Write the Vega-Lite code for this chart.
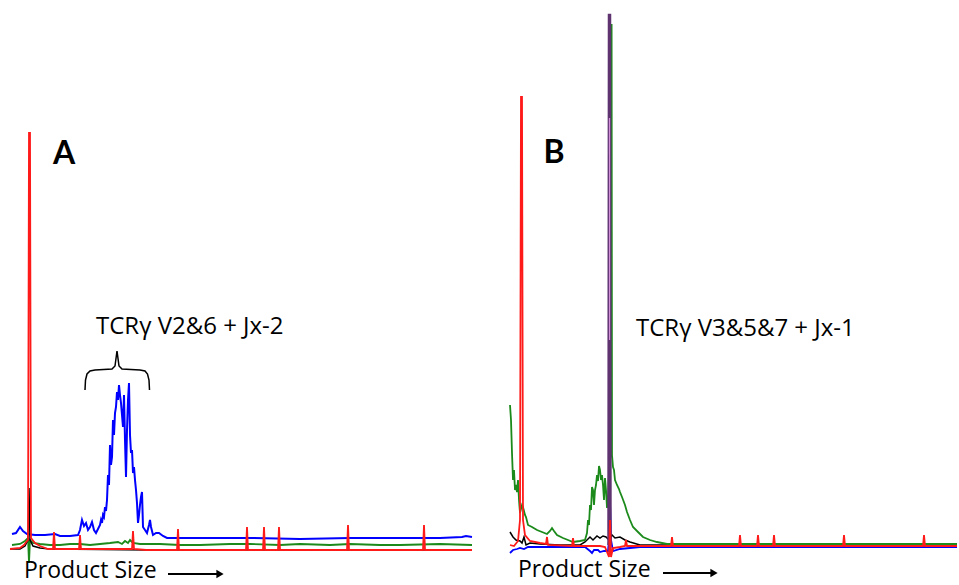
{
  "$schema": "https://vega.github.io/schema/vega-lite/v6.json",
  "padding": 0,
  "spacing": 10,
  "background": "white",
  "config": {"view": {"stroke": null}, "font": "Open Sans"},
  "datasets": {
    "a": [
      {"s":"r","x":10,"y":36},{"s":"r","x":20,"y":37},{"s":"r","x":24,"y":40},{"s":"r","x":27,"y":44},{"s":"r","x":28,"y":45},{"s":"r","x":29,"y":452},{"s":"r","x":30,"y":452},{"s":"r","x":31,"y":47},{"s":"r","x":35,"y":42},{"s":"r","x":40,"y":39},{"s":"r","x":48,"y":36},{"s":"r","x":53,"y":36},{"s":"r","x":54,"y":53},{"s":"r","x":55,"y":36},{"s":"r","x":79,"y":36},{"s":"r","x":80,"y":50},{"s":"r","x":81,"y":36},{"s":"r","x":132,"y":36},{"s":"r","x":133,"y":54},{"s":"r","x":134,"y":36},{"s":"r","x":146,"y":35},{"s":"r","x":177,"y":35},{"s":"r","x":178,"y":56},{"s":"r","x":179,"y":35},{"s":"r","x":246,"y":35},{"s":"r","x":247,"y":58},{"s":"r","x":248,"y":35},{"s":"r","x":263,"y":35},{"s":"r","x":264,"y":58},{"s":"r","x":265,"y":35},{"s":"r","x":278,"y":35},{"s":"r","x":279,"y":58},{"s":"r","x":280,"y":35},{"s":"r","x":347,"y":35},{"s":"r","x":348,"y":60},{"s":"r","x":349,"y":35},{"s":"r","x":423,"y":35},{"s":"r","x":424,"y":60},{"s":"r","x":425,"y":35},{"s":"r","x":472,"y":35},
      {"s":"k","x":10,"y":36},{"s":"k","x":20,"y":36},{"s":"k","x":25,"y":39},{"s":"k","x":28,"y":45},{"s":"k","x":29,"y":97},{"s":"k","x":30,"y":45},{"s":"k","x":33,"y":39},{"s":"k","x":40,"y":37},{"s":"k","x":50,"y":36},{"s":"k","x":150,"y":35},{"s":"k","x":472,"y":35},
      {"s":"g","x":12,"y":40},{"s":"g","x":20,"y":41},{"s":"g","x":25,"y":44},{"s":"g","x":28,"y":47},{"s":"g","x":29,"y":22},{"s":"g","x":30,"y":45},{"s":"g","x":33,"y":42},{"s":"g","x":40,"y":41},{"s":"g","x":50,"y":40},{"s":"g","x":60,"y":40},{"s":"g","x":70,"y":41},{"s":"g","x":80,"y":41},{"s":"g","x":90,"y":40},{"s":"g","x":100,"y":41},{"s":"g","x":110,"y":42},{"s":"g","x":118,"y":43},{"s":"g","x":122,"y":41},{"s":"g","x":125,"y":44},{"s":"g","x":128,"y":42},{"s":"g","x":130,"y":45},{"s":"g","x":133,"y":42},{"s":"g","x":140,"y":41},{"s":"g","x":160,"y":41},{"s":"g","x":180,"y":40},{"s":"g","x":200,"y":40},{"s":"g","x":230,"y":41},{"s":"g","x":250,"y":41},{"s":"g","x":280,"y":40},{"s":"g","x":300,"y":41},{"s":"g","x":330,"y":40},{"s":"g","x":350,"y":41},{"s":"g","x":380,"y":40},{"s":"g","x":400,"y":40},{"s":"g","x":440,"y":41},{"s":"g","x":472,"y":40},
      {"s":"b","x":12,"y":51},{"s":"b","x":16,"y":52},{"s":"b","x":20,"y":58},{"s":"b","x":23,"y":54},{"s":"b","x":27,"y":51},{"s":"b","x":35,"y":50},{"s":"b","x":45,"y":50},{"s":"b","x":55,"y":51},{"s":"b","x":60,"y":49},{"s":"b","x":70,"y":49},{"s":"b","x":78,"y":50},{"s":"b","x":80,"y":55},{"s":"b","x":82,"y":65},{"s":"b","x":84,"y":59},{"s":"b","x":86,"y":62},{"s":"b","x":88,"y":55},{"s":"b","x":90,"y":58},{"s":"b","x":92,"y":63},{"s":"b","x":94,"y":55},{"s":"b","x":96,"y":52},{"s":"b","x":98,"y":56},{"s":"b","x":100,"y":60},{"s":"b","x":101,"y":65},{"s":"b","x":102,"y":62},{"s":"b","x":103,"y":70},{"s":"b","x":104,"y":68},{"s":"b","x":105,"y":78},{"s":"b","x":106,"y":74},{"s":"b","x":107,"y":85},{"s":"b","x":108,"y":110},{"s":"b","x":109,"y":100},{"s":"b","x":110,"y":140},{"s":"b","x":111,"y":120},{"s":"b","x":112,"y":128},{"s":"b","x":113,"y":165},{"s":"b","x":114,"y":150},{"s":"b","x":115,"y":172},{"s":"b","x":116,"y":178},{"s":"b","x":117,"y":193},{"s":"b","x":118,"y":185},{"s":"b","x":119,"y":200},{"s":"b","x":120,"y":190},{"s":"b","x":121,"y":182},{"s":"b","x":122,"y":170},{"s":"b","x":123,"y":158},{"s":"b","x":124,"y":190},{"s":"b","x":125,"y":145},{"s":"b","x":126,"y":108},{"s":"b","x":127,"y":155},{"s":"b","x":128,"y":185},{"s":"b","x":129,"y":202},{"s":"b","x":130,"y":150},{"s":"b","x":131,"y":132},{"s":"b","x":132,"y":135},{"s":"b","x":133,"y":112},{"s":"b","x":134,"y":118},{"s":"b","x":135,"y":105},{"s":"b","x":136,"y":95},{"s":"b","x":137,"y":82},{"s":"b","x":138,"y":62},{"s":"b","x":139,"y":70},{"s":"b","x":140,"y":80},{"s":"b","x":141,"y":88},{"s":"b","x":142,"y":93},{"s":"b","x":143,"y":58},{"s":"b","x":145,"y":55},{"s":"b","x":147,"y":52},{"s":"b","x":149,"y":60},{"s":"b","x":150,"y":65},{"s":"b","x":151,"y":58},{"s":"b","x":153,"y":50},{"s":"b","x":156,"y":52},{"s":"b","x":159,"y":52},{"s":"b","x":163,"y":49},{"s":"b","x":167,"y":47},{"s":"b","x":175,"y":47},{"s":"b","x":200,"y":47},{"s":"b","x":250,"y":47},{"s":"b","x":300,"y":46},{"s":"b","x":350,"y":47},{"s":"b","x":400,"y":47},{"s":"b","x":440,"y":47},{"s":"b","x":462,"y":48},{"s":"b","x":466,"y":49},{"s":"b","x":472,"y":48},
      {"s":"brace","x":85,"y":195},{"s":"brace","x":85.5,"y":205},{"s":"brace","x":87,"y":211},{"s":"brace","x":90,"y":214},{"s":"brace","x":95,"y":215},{"s":"brace","x":112,"y":216},{"s":"brace","x":115,"y":219},{"s":"brace","x":117,"y":234},{"s":"brace","x":119,"y":219},{"s":"brace","x":122,"y":216},{"s":"brace","x":140,"y":215},{"s":"brace","x":145,"y":214},{"s":"brace","x":147.5,"y":211},{"s":"brace","x":149,"y":205},{"s":"brace","x":149.5,"y":195},
      {"s":"arrow","x":168,"y":11},{"s":"arrow","x":218,"y":11},
      {"s":"head","x":220,"y":11}
    ],
    "b": [
      {"s":"r","x":510,"y":40},{"s":"r","x":514,"y":39},{"s":"r","x":518,"y":44},{"s":"r","x":520,"y":65},{"s":"r","x":521,"y":488},{"s":"r","x":522,"y":488},{"s":"r","x":523,"y":65},{"s":"r","x":525,"y":50},{"s":"r","x":530,"y":44},{"s":"r","x":540,"y":42},{"s":"r","x":546,"y":41},{"s":"r","x":547,"y":48},{"s":"r","x":548,"y":40},{"s":"r","x":572,"y":39},{"s":"r","x":573,"y":47},{"s":"r","x":574,"y":39},{"s":"r","x":600,"y":39},{"s":"r","x":605,"y":38},{"s":"r","x":609,"y":28},{"s":"r","x":610,"y":65},{"s":"r","x":611,"y":28},{"s":"r","x":613,"y":37},{"s":"r","x":620,"y":38},{"s":"r","x":625,"y":39},{"s":"r","x":626,"y":45},{"s":"r","x":627,"y":39},{"s":"r","x":671,"y":39},{"s":"r","x":672,"y":48},{"s":"r","x":673,"y":39},{"s":"r","x":739,"y":39},{"s":"r","x":740,"y":50},{"s":"r","x":741,"y":39},{"s":"r","x":757,"y":39},{"s":"r","x":758,"y":50},{"s":"r","x":759,"y":39},{"s":"r","x":773,"y":39},{"s":"r","x":774,"y":50},{"s":"r","x":775,"y":39},{"s":"r","x":843,"y":39},{"s":"r","x":844,"y":50},{"s":"r","x":845,"y":39},{"s":"r","x":923,"y":39},{"s":"r","x":924,"y":50},{"s":"r","x":925,"y":39},{"s":"r","x":957,"y":39},
      {"s":"g","x":510,"y":180},{"s":"g","x":511,"y":165},{"s":"g","x":512,"y":132},{"s":"g","x":513,"y":105},{"s":"g","x":514,"y":115},{"s":"g","x":515,"y":95},{"s":"g","x":516,"y":100},{"s":"g","x":517,"y":93},{"s":"g","x":518,"y":105},{"s":"g","x":519,"y":85},{"s":"g","x":520,"y":72},{"s":"g","x":522,"y":80},{"s":"g","x":523,"y":78},{"s":"g","x":525,"y":70},{"s":"g","x":526,"y":68},{"s":"g","x":528,"y":60},{"s":"g","x":532,"y":58},{"s":"g","x":537,"y":55},{"s":"g","x":542,"y":53},{"s":"g","x":547,"y":51},{"s":"g","x":550,"y":54},{"s":"g","x":552,"y":57},{"s":"g","x":554,"y":54},{"s":"g","x":557,"y":50},{"s":"g","x":563,"y":47},{"s":"g","x":568,"y":45},{"s":"g","x":573,"y":43},{"s":"g","x":580,"y":44},{"s":"g","x":585,"y":45},{"s":"g","x":587,"y":52},{"s":"g","x":588,"y":65},{"s":"g","x":589,"y":60},{"s":"g","x":590,"y":80},{"s":"g","x":591,"y":75},{"s":"g","x":592,"y":98},{"s":"g","x":593,"y":95},{"s":"g","x":594,"y":80},{"s":"g","x":595,"y":95},{"s":"g","x":596,"y":100},{"s":"g","x":597,"y":110},{"s":"g","x":598,"y":104},{"s":"g","x":599,"y":119},{"s":"g","x":600,"y":115},{"s":"g","x":601,"y":105},{"s":"g","x":602,"y":110},{"s":"g","x":603,"y":100},{"s":"g","x":604,"y":85},{"s":"g","x":605,"y":107},{"s":"g","x":606,"y":95},{"s":"g","x":607,"y":77},{"s":"g","x":608,"y":85},{"s":"g","x":609,"y":115},{"s":"g","x":610.5,"y":130},{"s":"g","x":611,"y":560},{"s":"g","x":611.6,"y":560},{"s":"g","x":612,"y":130},{"s":"g","x":613,"y":118},{"s":"g","x":614,"y":115},{"s":"g","x":615,"y":105},{"s":"g","x":617,"y":100},{"s":"g","x":619,"y":96},{"s":"g","x":620,"y":93},{"s":"g","x":622,"y":88},{"s":"g","x":625,"y":80},{"s":"g","x":627,"y":73},{"s":"g","x":630,"y":65},{"s":"g","x":633,"y":58},{"s":"g","x":638,"y":53},{"s":"g","x":643,"y":48},{"s":"g","x":650,"y":45},{"s":"g","x":657,"y":43},{"s":"g","x":667,"y":41},{"s":"g","x":700,"y":41},{"s":"g","x":750,"y":41},{"s":"g","x":800,"y":41},{"s":"g","x":850,"y":41},{"s":"g","x":900,"y":41},{"s":"g","x":957,"y":41},
      {"s":"k","x":510,"y":53},{"s":"k","x":513,"y":48},{"s":"k","x":516,"y":45},{"s":"k","x":520,"y":44},{"s":"k","x":522,"y":42},{"s":"k","x":524,"y":48},{"s":"k","x":526,"y":40},{"s":"k","x":530,"y":42},{"s":"k","x":540,"y":41},{"s":"k","x":560,"y":40},{"s":"k","x":580,"y":40},{"s":"k","x":585,"y":43},{"s":"k","x":590,"y":48},{"s":"k","x":593,"y":45},{"s":"k","x":597,"y":49},{"s":"k","x":600,"y":47},{"s":"k","x":603,"y":49},{"s":"k","x":606,"y":48},{"s":"k","x":609,"y":45},{"s":"k","x":612,"y":50},{"s":"k","x":615,"y":47},{"s":"k","x":620,"y":48},{"s":"k","x":625,"y":45},{"s":"k","x":630,"y":43},{"s":"k","x":640,"y":40},{"s":"k","x":700,"y":40},{"s":"k","x":800,"y":40},{"s":"k","x":957,"y":40},
      {"s":"b","x":510,"y":32},{"s":"b","x":513,"y":35},{"s":"b","x":517,"y":36},{"s":"b","x":520,"y":37},{"s":"b","x":524,"y":36},{"s":"b","x":528,"y":38},{"s":"b","x":540,"y":38},{"s":"b","x":560,"y":38},{"s":"b","x":585,"y":38},{"s":"b","x":590,"y":34},{"s":"b","x":592,"y":32},{"s":"b","x":594,"y":35},{"s":"b","x":598,"y":35},{"s":"b","x":600,"y":33},{"s":"b","x":604,"y":34},{"s":"b","x":608,"y":34},{"s":"b","x":609,"y":45},{"s":"b","x":610,"y":85},{"s":"b","x":611,"y":45},{"s":"b","x":613,"y":34},{"s":"b","x":620,"y":36},{"s":"b","x":630,"y":37},{"s":"b","x":640,"y":38},{"s":"b","x":957,"y":38},
      {"s":"p","x":608.5,"y":40},{"s":"p","x":609,"y":570},{"s":"p","x":610,"y":570},{"s":"p","x":610.5,"y":40},
      {"s":"pl","x":609.5,"y":467},{"s":"pl","x":609.55,"y":245},
      {"s":"arrow","x":663,"y":12},{"s":"arrow","x":712,"y":12},
      {"s":"head","x":714,"y":12}
    ],
    "ta": [
      {"k":"panel","x":64,"y":431,"t":"A"},
      {"k":"note","x":96,"y":251,"t":"TCRγ V2&6 + Jx-2"},
      {"k":"axis","x":24,"y":7,"t":"Product Size"}
    ],
    "tb": [
      {"k":"panel","x":554,"y":432,"t":"B"},
      {"k":"note","x":636,"y":249,"t":"TCRγ V3&5&7 + Jx-1"},
      {"k":"axis","x":518,"y":8,"t":"Product Size"}
    ]
  },
  "hconcat": [
    {
      "width": 480,
      "height": 585,
      "encoding": {
        "x": {"field": "x", "type": "quantitative", "scale": {"domain": [0, 480], "nice": false, "zero": false}, "axis": null},
        "y": {"field": "y", "type": "quantitative", "scale": {"domain": [0, 585], "nice": false, "zero": false}, "axis": null}
      },
      "layer": [
        {"data": {"name": "a"}, "transform": [{"filter": "datum.s === 'g'"}], "mark": {"type": "line", "color": "#1b8a1b", "strokeWidth": 1.8}},
        {"data": {"name": "a"}, "transform": [{"filter": "datum.s === 'b'"}], "mark": {"type": "line", "color": "#0000ff", "strokeWidth": 2}},
        {"data": {"name": "a"}, "transform": [{"filter": "datum.s === 'k'"}], "mark": {"type": "line", "color": "#000000", "strokeWidth": 1.5}},
        {"data": {"name": "a"}, "transform": [{"filter": "datum.s === 'r'"}], "mark": {"type": "line", "color": "#ff1a1a", "strokeWidth": 1.8}},
        {"data": {"name": "a"}, "transform": [{"filter": "datum.s === 'brace'"}], "mark": {"type": "line", "color": "#000000", "strokeWidth": 1.5}},
        {"data": {"name": "a"}, "transform": [{"filter": "datum.s === 'arrow'"}], "mark": {"type": "line", "color": "#000000", "strokeWidth": 2}},
        {"data": {"name": "a"}, "transform": [{"filter": "datum.s === 'head'"}], "mark": {"type": "point", "shape": "triangle-right", "filled": true, "color": "#000000", "size": 70, "opacity": 1}},
        {"data": {"name": "ta"}, "transform": [{"filter": "datum.k === 'panel'"}], "mark": {"type": "text", "font": "Lato", "fontSize": 32, "fontWeight": "bold", "align": "center", "baseline": "middle", "color": "#000000"}, "encoding": {"text": {"field": "t"}}},
        {"data": {"name": "ta"}, "transform": [{"filter": "datum.k === 'note'"}], "mark": {"type": "text", "fontSize": 24, "align": "left", "baseline": "alphabetic", "color": "#000000"}, "encoding": {"text": {"field": "t"}}},
        {"data": {"name": "ta"}, "transform": [{"filter": "datum.k === 'axis'"}], "mark": {"type": "text", "fontSize": 23, "align": "left", "baseline": "alphabetic", "color": "#000000"}, "encoding": {"text": {"field": "t"}}}
      ]
    },
    {
      "width": 469,
      "height": 585,
      "encoding": {
        "x": {"field": "x", "type": "quantitative", "scale": {"domain": [490, 959], "nice": false, "zero": false}, "axis": null},
        "y": {"field": "y", "type": "quantitative", "scale": {"domain": [0, 585], "nice": false, "zero": false}, "axis": null}
      },
      "layer": [
        {"data": {"name": "b"}, "transform": [{"filter": "datum.s === 'b'"}], "mark": {"type": "line", "color": "#0000ff", "strokeWidth": 1.8}},
        {"data": {"name": "b"}, "transform": [{"filter": "datum.s === 'k'"}], "mark": {"type": "line", "color": "#000000", "strokeWidth": 1.5}},
        {"data": {"name": "b"}, "transform": [{"filter": "datum.s === 'g'"}], "mark": {"type": "line", "color": "#1b8a1b", "strokeWidth": 1.8}},
        {"data": {"name": "b"}, "transform": [{"filter": "datum.s === 'p'"}], "mark": {"type": "line", "color": "#5e3370", "strokeWidth": 2.5}},
        {"data": {"name": "b"}, "transform": [{"filter": "datum.s === 'pl'"}], "mark": {"type": "line", "color": "#d08fd6", "strokeWidth": 1.2}},
        {"data": {"name": "b"}, "transform": [{"filter": "datum.s === 'r'"}], "mark": {"type": "line", "color": "#ff1a1a", "strokeWidth": 1.8}},
        {"data": {"name": "b"}, "transform": [{"filter": "datum.s === 'arrow'"}], "mark": {"type": "line", "color": "#000000", "strokeWidth": 2}},
        {"data": {"name": "b"}, "transform": [{"filter": "datum.s === 'head'"}], "mark": {"type": "point", "shape": "triangle-right", "filled": true, "color": "#000000", "size": 70, "opacity": 1}},
        {"data": {"name": "tb"}, "transform": [{"filter": "datum.k === 'panel'"}], "mark": {"type": "text", "font": "Lato", "fontSize": 32, "fontWeight": "bold", "align": "center", "baseline": "middle", "color": "#000000"}, "encoding": {"text": {"field": "t"}}},
        {"data": {"name": "tb"}, "transform": [{"filter": "datum.k === 'note'"}], "mark": {"type": "text", "fontSize": 24, "align": "left", "baseline": "alphabetic", "color": "#000000"}, "encoding": {"text": {"field": "t"}}},
        {"data": {"name": "tb"}, "transform": [{"filter": "datum.k === 'axis'"}], "mark": {"type": "text", "fontSize": 23, "align": "left", "baseline": "alphabetic", "color": "#000000"}, "encoding": {"text": {"field": "t"}}}
      ]
    }
  ]
}
